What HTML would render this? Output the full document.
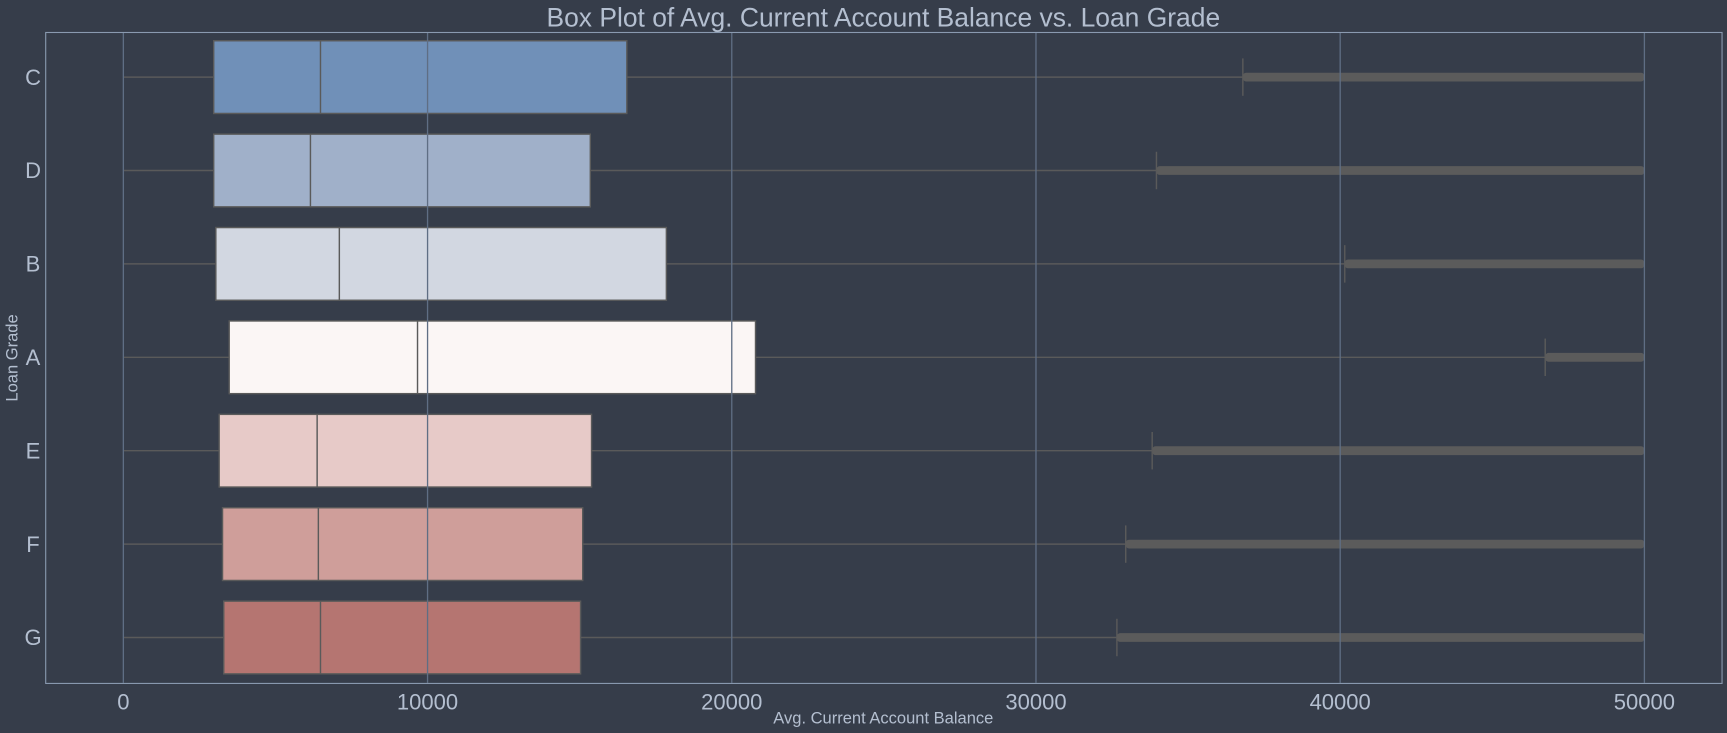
<!DOCTYPE html>
<html><head><meta charset="utf-8"><style>
body{margin:0;background:#363d4a;width:1727px;height:733px;overflow:hidden}
svg{display:block;font-family:"Liberation Sans",sans-serif}
</style></head><body>
<svg id="chart" width="1727" height="733" viewBox="0 0 1568 665.5" preserveAspectRatio="none">
<rect width="1568" height="666" fill="#363d4a"/>
<text x="802" y="24" text-anchor="middle" font-size="24" fill="#b4bfd0">Box Plot of Avg. Current Account Balance vs. Loan Grade</text>
<text x="802" y="657" text-anchor="middle" font-size="15" fill="#b4bfd0">Avg. Current Account Balance</text>
<text transform="translate(16,325) rotate(-90)" text-anchor="middle" font-size="15" fill="#b4bfd0">Loan Grade</text>
<g id="plot"></g>
<rect x="41.5" y="29.5" width="1522" height="591" fill="none" stroke="#8a9ab0" stroke-width="1"/>
</svg>
<script>
const categories=["C","D","B","A","E","F","G"];
const q1=[2970,2970,3040,3480,3150,3260,3300];
const medians=[6480,6150,7100,9670,6370,6410,6480];
const q3=[16550,15350,17850,20780,15390,15100,15030];
const whiskLow=[0,0,0,0,0,0,0];
const whiskHigh=[36800,33960,40150,46740,33820,32950,32660];
const outlierMax=[50000,50000,50000,50000,50000,50000,50000];
const colors=["#7090b8","#a0b0c9","#d2d7e1","#fbf6f5","#e7cac8","#cf9e9a","#b57571"];
const xTicks=[0,10000,20000,30000,40000,50000];
const NS="http://www.w3.org/2000/svg";
const g=document.getElementById('plot');
const x=v=>112+v*(1493-112)/50000;
const y=i=>70+i*84.8;
const bh=66;
function el(t,a){const e=document.createElementNS(NS,t);for(const k in a)e.setAttribute(k,a[k]);g.appendChild(e);return e;}
categories.forEach((c,i)=>{
 const cy=y(i);
 let l=el('line',{x1:x(whiskLow[i]),x2:x(q1[i]),y1:cy,y2:cy,stroke:'#5a5a5a','stroke-width':1.3});
 
 
 l=el('line',{x1:x(q3[i]),x2:x(whiskHigh[i]),y1:cy,y2:cy,stroke:'#5a5a5a','stroke-width':1.3});
 
 
 l=el('line',{x1:x(whiskHigh[i]),x2:x(whiskHigh[i]),y1:cy-17,y2:cy+17,stroke:'#5a5a5a','stroke-width':1.3});
 
 
 let o=el('rect',{x:x(whiskHigh[i]),y:cy-4,width:x(outlierMax[i])-x(whiskHigh[i]),height:8,fill:'#5b5b5b',rx:3});
 
 
 let b=el('rect',{x:x(q1[i]),y:cy-bh/2,width:x(q3[i])-x(q1[i]),height:bh,fill:colors[i],stroke:'#5a5a5a','stroke-width':1.3});
 
 
 let m=el('line',{x1:x(medians[i]),x2:x(medians[i]),y1:cy-bh/2,y2:cy+bh/2,stroke:'#5a5a5a','stroke-width':1.3});
 
 
 let t=el('text',{x:30,y:cy+7,'text-anchor':'middle','font-size':20,fill:'#b4bfd0'});
 t.textContent=c;
 
 
});
xTicks.forEach(v=>{
 let l=el('line',{x1:x(v),x2:x(v),y1:30,y2:620,stroke:'#5f6e84','stroke-width':1.2});
 
 
 let t=el('text',{x:x(v),y:644,'text-anchor':'middle','font-size':20,fill:'#b4bfd0'});
 t.textContent=v;
 
 
});
</script>
</body></html>
